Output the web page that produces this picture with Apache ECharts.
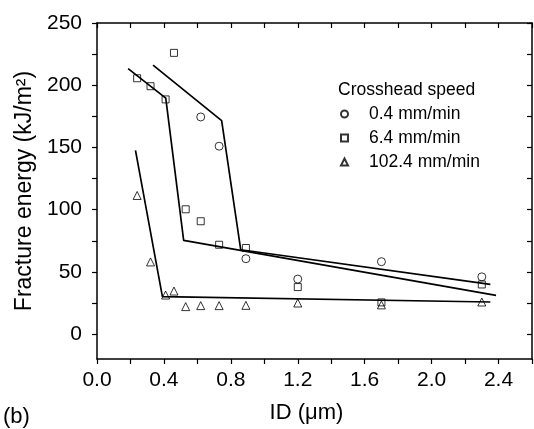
<!DOCTYPE html>
<html><head><meta charset="utf-8">
<script src="https://cdn.jsdelivr.net/npm/echarts@6/dist/echarts.min.js"></script>
<style>html,body{margin:0;padding:0;background:#fff}#c{width:534px;height:429px}</style>
</head><body><div id="c"></div>
<script>
// ---- data ----
const seriesNames = ['0.4 mm/min', '6.4 mm/min', '102.4 mm/min'];
const idCircle = [0.62, 0.73, 0.89, 1.2, 1.7, 2.3];
const energyCircle = [174.5, 151, 60.6, 44.2, 58.2, 46];
const idSquare = [0.24, 0.32, 0.41, 0.46, 0.53, 0.62, 0.73, 0.89, 1.2, 1.7, 2.3];
const energySquare = [205.6, 199.2, 188.6, 226, 100.3, 90.7, 71.8, 69.2, 37.8, 25.5, 39.9];
const idTriangle = [0.24, 0.32, 0.41, 0.46, 0.53, 0.62, 0.73, 0.89, 1.2, 1.7, 2.3];
const energyTriangle = [111.4, 58, 31.4, 34.6, 22.1, 22.9, 22.9, 23.1, 25.0, 23.5, 25.8];
const fitCircleX = [0.335, 0.745, 0.859, 2.351];
const fitCircleY = [216.2, 171.5, 67.8, 39.9];
const fitSquareX = [0.186, 0.411, 0.518, 2.385];
const fitSquareY = [213.3, 189.6, 75.3, 31.1];
const fitTriangleX = [0.230, 0.391, 2.351];
const fitTriangleY = [147.6, 30.1, 25.8];
const xTicks = [0, 0.2, 0.4, 0.6, 0.8, 1.0, 1.2, 1.4, 1.6, 1.8, 2.0, 2.2, 2.4, 2.6];
const xLabels = [0, 0.4, 0.8, 1.2, 1.6, 2.0, 2.4];
const yTicks = [0, 25, 50, 75, 100, 125, 150, 175, 200, 225, 250];
const yLabels = [0, 50, 100, 150, 200, 250];

const FONT = '"Liberation Sans", Arial, Helvetica, sans-serif';
const zip = (xs, ys) => xs.map((x, i) => [x, ys[i]]);

const chart = echarts.init(document.getElementById('c'), null, {renderer: 'canvas'});
const axisLine = {show: true, onZero: false, lineStyle: {color: '#000', width: 1.5}};
const markerStyle = {color: 'rgba(0,0,0,0)', borderColor: '#000', borderWidth: 1};
const fitStyle = {color: '#000', width: 1.7};

chart.setOption({
  animation: false,
  backgroundColor: '#fff',
  grid: {left: 97, right: 2, top: 23, bottom: 68},
  xAxis: [{
    type: 'value', min: 0, max: 2.6, position: 'bottom',
    name: 'ID (\u03bcm)', nameLocation: 'middle', nameGap: 43,
    nameTextStyle: {fontFamily: FONT, fontSize: 22, color: '#000', padding: [0, 16, 0, 0]},
    axisLine: axisLine,
    axisTick: {show: true, inside: false, length: 5, customValues: xTicks, lineStyle: {color: '#000', width: 1.2}},
    axisLabel: {show: true, customValues: xLabels, margin: 11, fontFamily: FONT, fontSize: 21, color: '#000',
      formatter: v => Number(v).toFixed(1)},
    splitLine: {show: false}
  }, {
    type: 'value', min: 0, max: 2.6, position: 'top',
    axisLine: axisLine,
    axisTick: {show: true, inside: true, length: 5, customValues: xTicks, lineStyle: {color: '#000', width: 1.2}},
    axisLabel: {show: false},
    splitLine: {show: false}
  }],
  yAxis: [{
    type: 'value', min: -20, max: 250, position: 'left',
    name: 'Fracture energy (kJ/m\u00b2)', nameLocation: 'middle', nameGap: 58,
    nameTextStyle: {fontFamily: FONT, fontSize: 23, color: '#000'},
    axisLine: axisLine,
    axisTick: {show: true, inside: false, length: 5, customValues: yTicks, lineStyle: {color: '#000', width: 1.2}},
    axisLabel: {show: true, customValues: yLabels, margin: 15, fontFamily: FONT, fontSize: 21, color: '#000'},
    splitLine: {show: false}
  }, {
    type: 'value', min: -20, max: 250, position: 'right',
    axisLine: axisLine,
    axisTick: {show: true, inside: true, length: 5, customValues: yTicks, lineStyle: {color: '#000', width: 1.2}},
    axisLabel: {show: false},
    splitLine: {show: false}
  }],
  legend: {
    data: seriesNames, orient: 'vertical', left: 340, top: 105, padding: 0,
    itemWidth: 7, itemHeight: 7, itemGap: 6, selectedMode: false,
    textStyle: {fontFamily: FONT, fontSize: 17.5, color: '#000', lineHeight: 18, padding: [0, 0, 0, 16]}
  },
  graphic: [
    {type: 'text', left: 338, top: 81, style: {text: 'Crosshead speed', font: '17.5px ' + FONT, fill: '#000'}},
    {type: 'text', left: 3, top: 406, style: {text: '(b)', font: '22px ' + FONT, fill: '#000'}}
  ],
  series: [
    {type: 'line', data: zip(fitCircleX, fitCircleY), symbol: 'none', lineStyle: fitStyle, z: 2, silent: true},
    {type: 'line', data: zip(fitSquareX, fitSquareY), symbol: 'none', lineStyle: fitStyle, z: 2, silent: true},
    {type: 'line', data: zip(fitTriangleX, fitTriangleY), symbol: 'none', lineStyle: fitStyle, z: 2, silent: true},
    {name: seriesNames[0], type: 'scatter', symbol: 'circle', symbolSize: 8, data: zip(idCircle, energyCircle), itemStyle: markerStyle, z: 3},
    {name: seriesNames[1], type: 'scatter', symbol: 'rect', symbolSize: 7, data: zip(idSquare, energySquare), itemStyle: markerStyle, z: 3},
    {name: seriesNames[2], type: 'scatter', symbol: 'triangle', symbolSize: 8, data: zip(idTriangle, energyTriangle), itemStyle: markerStyle, z: 3}
  ]
});
</script>
</body></html>
